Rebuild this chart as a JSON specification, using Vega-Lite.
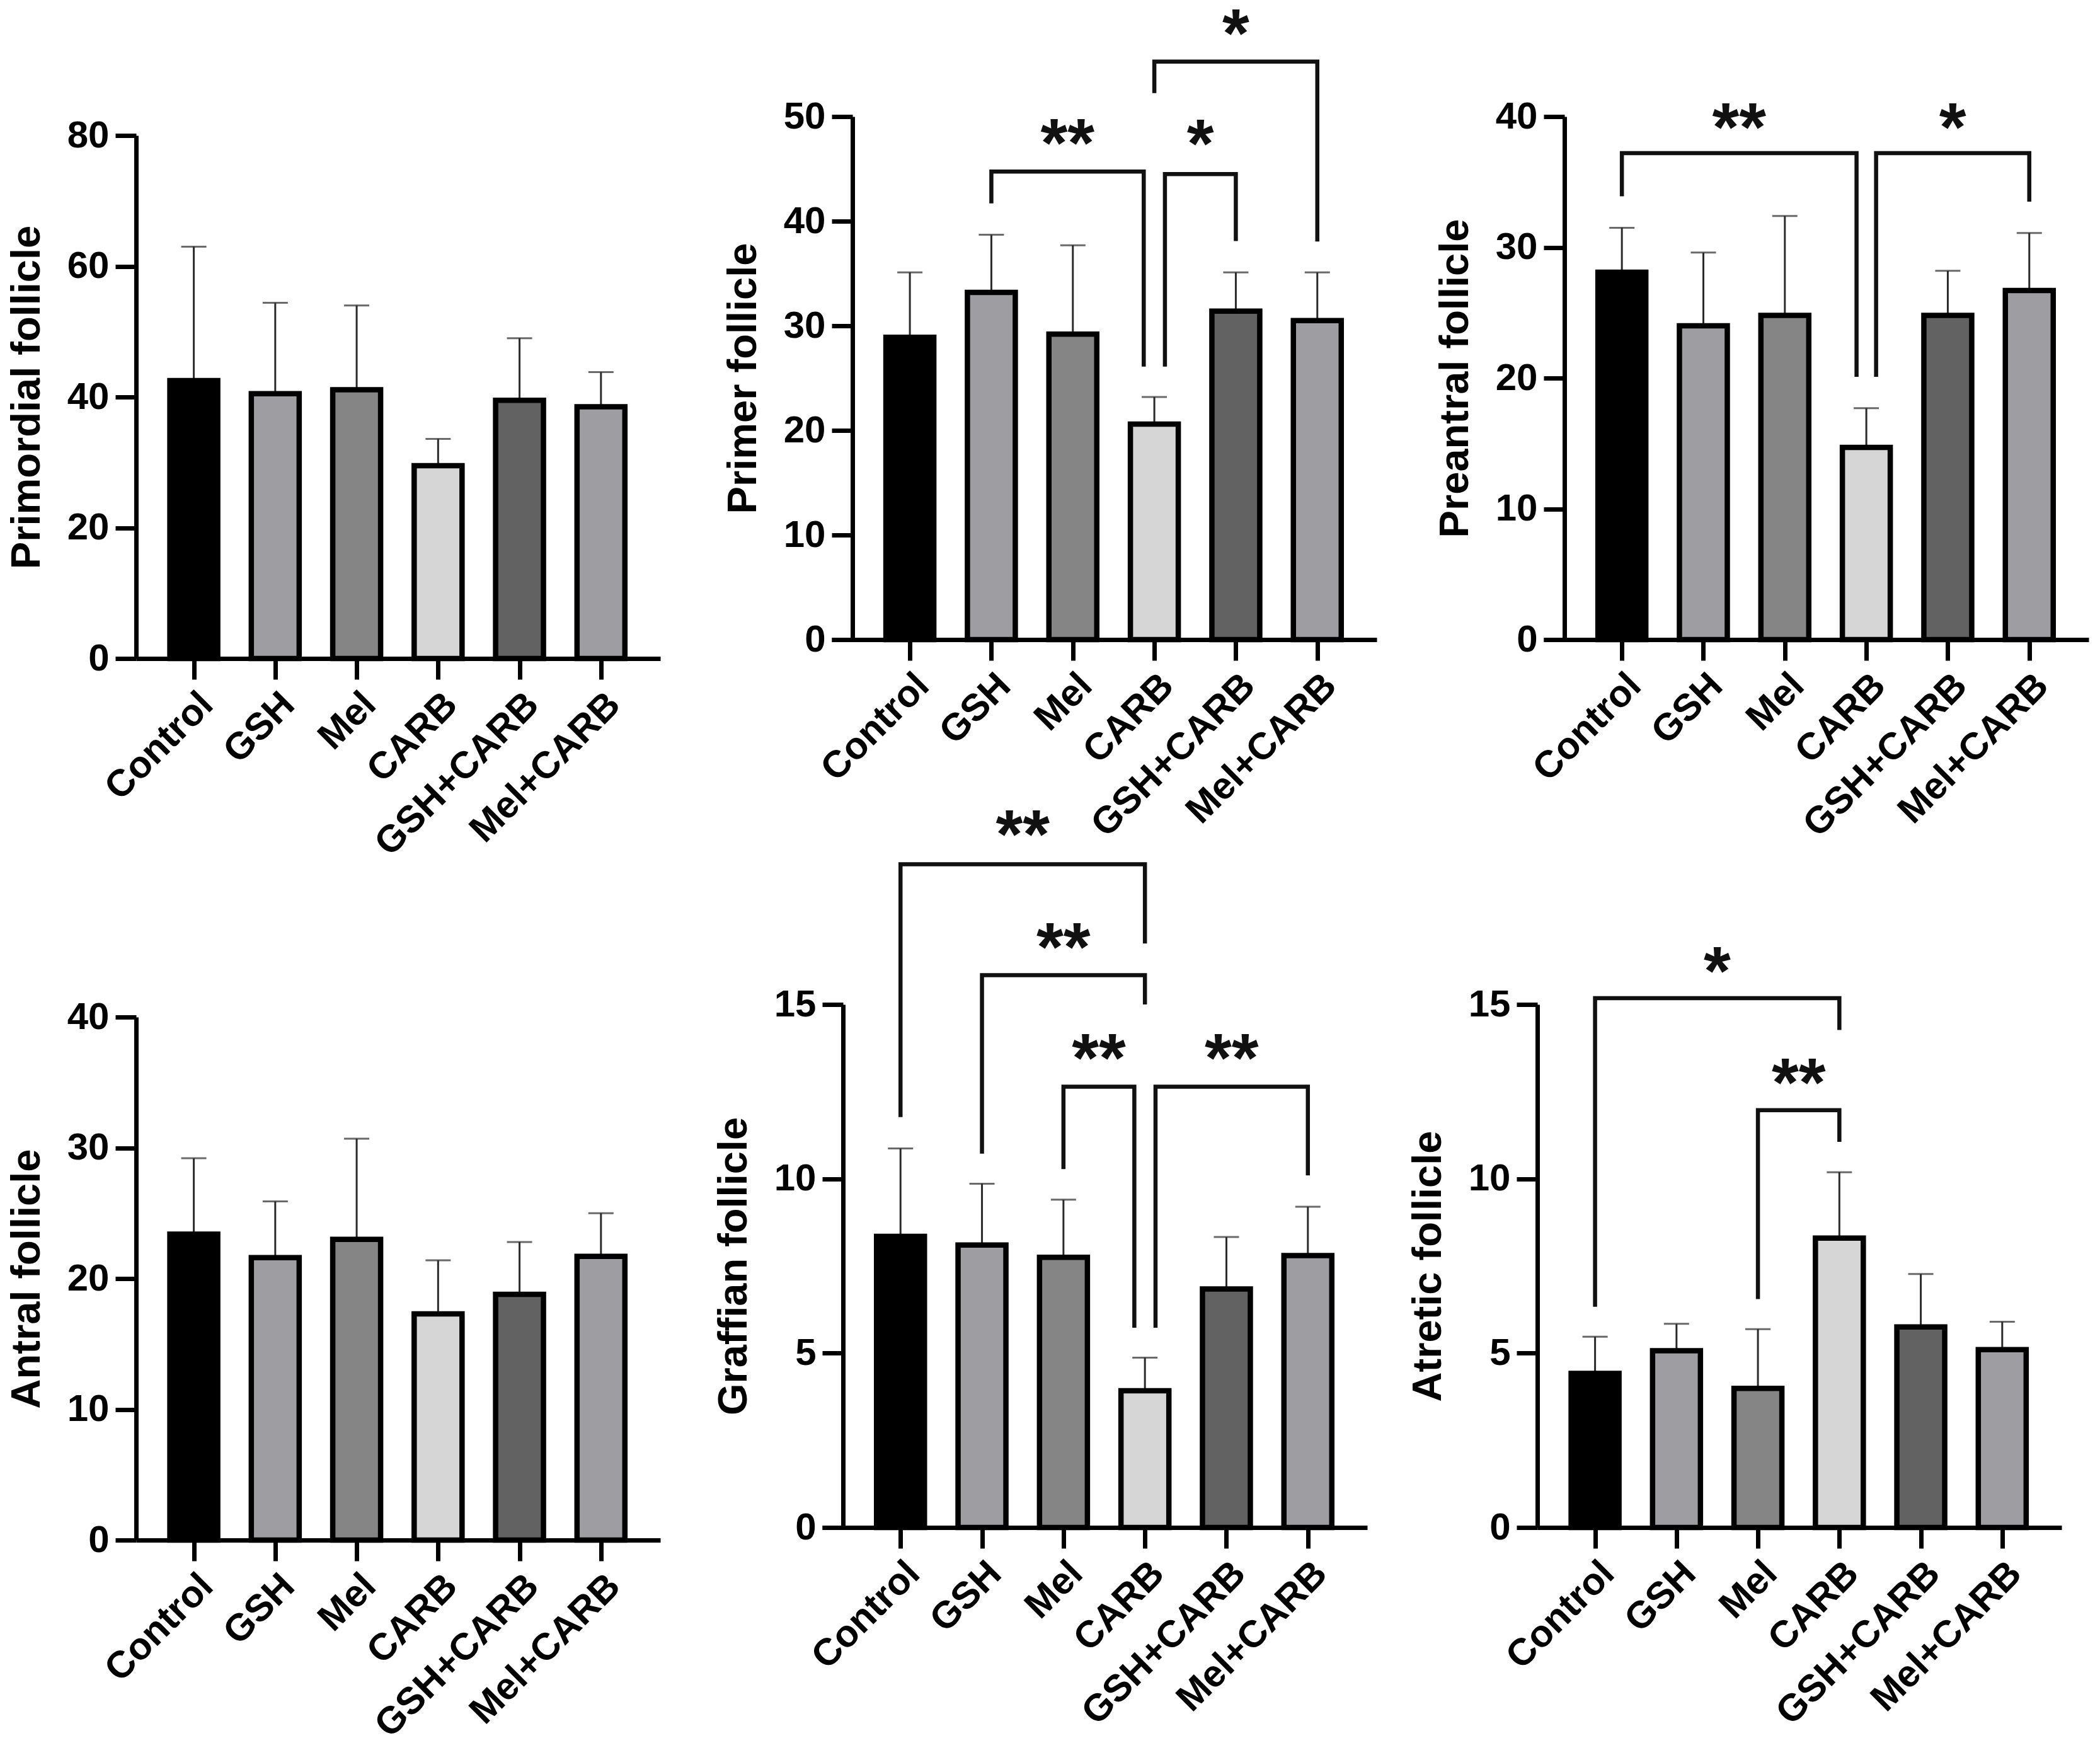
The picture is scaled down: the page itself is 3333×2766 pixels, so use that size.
{
  "$schema": "https://vega.github.io/schema/vega-lite/v6.json",
  "background": "white",
  "padding": {"left": 10, "top": 1, "right": 10, "bottom": 10},
  "columns": 3,
  "bounds": "flush",
  "align": "each",
  "spacing": {"row": 549, "column": 255},
  "config": {
    "view": {"stroke": null},
    "axis": {
      "grid": false,
      "domainColor": "#000000",
      "domainWidth": 7,
      "tickColor": "#000000",
      "tickWidth": 7,
      "tickSize": 33,
      "labelFont": "Liberation Sans",
      "labelFontWeight": "bold",
      "labelFontSize": 60,
      "labelColor": "#000000",
      "labelPadding": 10,
      "labelOverlap": false,
      "labelFlush": false,
      "labelBound": false,
      "labelLimit": 0,
      "titleFont": "Liberation Sans",
      "titleFontWeight": "bold",
      "titleFontSize": 65,
      "titleColor": "#000000",
      "titlePadding": 30
    },
    "axisX": {"labelAngle": -45, "labelAlign": "right", "labelBaseline": "top"}
  },
  "datasets": {
    "bars": [
      {"panel": "Primordial", "group": "Control", "pos": 0, "mean": 42.5, "upper": 63.0},
      {"panel": "Primordial", "group": "GSH", "pos": 1, "mean": 40.5, "upper": 54.4},
      {"panel": "Primordial", "group": "Mel", "pos": 2, "mean": 41.1, "upper": 54.0},
      {"panel": "Primordial", "group": "CARB", "pos": 3, "mean": 29.5, "upper": 33.6},
      {"panel": "Primordial", "group": "GSH+CARB", "pos": 4, "mean": 39.5, "upper": 49.0},
      {"panel": "Primordial", "group": "Mel+CARB", "pos": 5, "mean": 38.5, "upper": 43.8},
      {"panel": "Primer", "group": "Control", "pos": 0, "mean": 28.9, "upper": 35.1},
      {"panel": "Primer", "group": "GSH", "pos": 1, "mean": 33.2, "upper": 38.7},
      {"panel": "Primer", "group": "Mel", "pos": 2, "mean": 29.2, "upper": 37.7},
      {"panel": "Primer", "group": "CARB", "pos": 3, "mean": 20.6, "upper": 23.2},
      {"panel": "Primer", "group": "GSH+CARB", "pos": 4, "mean": 31.4, "upper": 35.1},
      {"panel": "Primer", "group": "Mel+CARB", "pos": 5, "mean": 30.5, "upper": 35.1},
      {"panel": "Preantral", "group": "Control", "pos": 0, "mean": 28.1, "upper": 31.5},
      {"panel": "Preantral", "group": "GSH", "pos": 1, "mean": 24.0, "upper": 29.6},
      {"panel": "Preantral", "group": "Mel", "pos": 2, "mean": 24.8, "upper": 32.4},
      {"panel": "Preantral", "group": "CARB", "pos": 3, "mean": 14.7, "upper": 17.7},
      {"panel": "Preantral", "group": "GSH+CARB", "pos": 4, "mean": 24.8, "upper": 28.2},
      {"panel": "Preantral", "group": "Mel+CARB", "pos": 5, "mean": 26.7, "upper": 31.1},
      {"panel": "Antral", "group": "Control", "pos": 0, "mean": 23.4, "upper": 29.2},
      {"panel": "Antral", "group": "GSH", "pos": 1, "mean": 21.6, "upper": 25.9},
      {"panel": "Antral", "group": "Mel", "pos": 2, "mean": 23.0, "upper": 30.7},
      {"panel": "Antral", "group": "CARB", "pos": 3, "mean": 17.3, "upper": 21.4},
      {"panel": "Antral", "group": "GSH+CARB", "pos": 4, "mean": 18.8, "upper": 22.8},
      {"panel": "Antral", "group": "Mel+CARB", "pos": 5, "mean": 21.7, "upper": 25.0},
      {"panel": "Graffian", "group": "Control", "pos": 0, "mean": 8.35, "upper": 10.87},
      {"panel": "Graffian", "group": "GSH", "pos": 1, "mean": 8.1, "upper": 9.86},
      {"panel": "Graffian", "group": "Mel", "pos": 2, "mean": 7.75, "upper": 9.4},
      {"panel": "Graffian", "group": "CARB", "pos": 3, "mean": 3.92, "upper": 4.87},
      {"panel": "Graffian", "group": "GSH+CARB", "pos": 4, "mean": 6.84, "upper": 8.33},
      {"panel": "Graffian", "group": "Mel+CARB", "pos": 5, "mean": 7.8, "upper": 9.2},
      {"panel": "Atretic", "group": "Control", "pos": 0, "mean": 4.42, "upper": 5.47},
      {"panel": "Atretic", "group": "GSH", "pos": 1, "mean": 5.07, "upper": 5.84},
      {"panel": "Atretic", "group": "Mel", "pos": 2, "mean": 3.99, "upper": 5.69},
      {"panel": "Atretic", "group": "CARB", "pos": 3, "mean": 8.3, "upper": 10.19},
      {"panel": "Atretic", "group": "GSH+CARB", "pos": 4, "mean": 5.75, "upper": 7.27},
      {"panel": "Atretic", "group": "Mel+CARB", "pos": 5, "mean": 5.1, "upper": 5.9}
    ],
    "brackets": [
      {"panel": "Primer", "b": "GSH-CARB", "k": 0, "pos": 1, "y": 41.7},
      {"panel": "Primer", "b": "GSH-CARB", "k": 1, "pos": 1, "y": 44.75},
      {"panel": "Primer", "b": "GSH-CARB", "k": 2, "pos": 2.87, "y": 44.75},
      {"panel": "Primer", "b": "GSH-CARB", "k": 3, "pos": 2.87, "y": 26.1},
      {"panel": "Primer", "b": "CARB-GSH+CARB", "k": 0, "pos": 3.13, "y": 26.1},
      {"panel": "Primer", "b": "CARB-GSH+CARB", "k": 1, "pos": 3.13, "y": 44.5},
      {"panel": "Primer", "b": "CARB-GSH+CARB", "k": 2, "pos": 4, "y": 44.5},
      {"panel": "Primer", "b": "CARB-GSH+CARB", "k": 3, "pos": 4, "y": 38.1},
      {"panel": "Primer", "b": "CARB-Mel+CARB", "k": 0, "pos": 3, "y": 52.25},
      {"panel": "Primer", "b": "CARB-Mel+CARB", "k": 1, "pos": 3, "y": 55.25},
      {"panel": "Primer", "b": "CARB-Mel+CARB", "k": 2, "pos": 5, "y": 55.25},
      {"panel": "Primer", "b": "CARB-Mel+CARB", "k": 3, "pos": 5, "y": 38.05},
      {"panel": "Preantral", "b": "Control-CARB", "k": 0, "pos": 0, "y": 33.9},
      {"panel": "Preantral", "b": "Control-CARB", "k": 1, "pos": 0, "y": 37.2},
      {"panel": "Preantral", "b": "Control-CARB", "k": 2, "pos": 2.88, "y": 37.2},
      {"panel": "Preantral", "b": "Control-CARB", "k": 3, "pos": 2.88, "y": 20.1},
      {"panel": "Preantral", "b": "CARB-Mel+CARB", "k": 0, "pos": 3.12, "y": 20.1},
      {"panel": "Preantral", "b": "CARB-Mel+CARB", "k": 1, "pos": 3.12, "y": 37.2},
      {"panel": "Preantral", "b": "CARB-Mel+CARB", "k": 2, "pos": 5, "y": 37.2},
      {"panel": "Preantral", "b": "CARB-Mel+CARB", "k": 3, "pos": 5, "y": 33.5},
      {"panel": "Graffian", "b": "Control-CARB", "k": 0, "pos": 0, "y": 11.77},
      {"panel": "Graffian", "b": "Control-CARB", "k": 1, "pos": 0, "y": 19.02},
      {"panel": "Graffian", "b": "Control-CARB", "k": 2, "pos": 3, "y": 19.02},
      {"panel": "Graffian", "b": "Control-CARB", "k": 3, "pos": 3, "y": 16.75},
      {"panel": "Graffian", "b": "GSH-CARB", "k": 0, "pos": 1, "y": 10.72},
      {"panel": "Graffian", "b": "GSH-CARB", "k": 1, "pos": 1, "y": 15.84},
      {"panel": "Graffian", "b": "GSH-CARB", "k": 2, "pos": 3, "y": 15.84},
      {"panel": "Graffian", "b": "GSH-CARB", "k": 3, "pos": 3, "y": 15.0},
      {"panel": "Graffian", "b": "Mel-CARB", "k": 0, "pos": 2, "y": 10.28},
      {"panel": "Graffian", "b": "Mel-CARB", "k": 1, "pos": 2, "y": 12.64},
      {"panel": "Graffian", "b": "Mel-CARB", "k": 2, "pos": 2.87, "y": 12.64},
      {"panel": "Graffian", "b": "Mel-CARB", "k": 3, "pos": 2.87, "y": 5.73},
      {"panel": "Graffian", "b": "CARB-Mel+CARB", "k": 0, "pos": 3.13, "y": 5.73},
      {"panel": "Graffian", "b": "CARB-Mel+CARB", "k": 1, "pos": 3.13, "y": 12.64},
      {"panel": "Graffian", "b": "CARB-Mel+CARB", "k": 2, "pos": 5, "y": 12.64},
      {"panel": "Graffian", "b": "CARB-Mel+CARB", "k": 3, "pos": 5, "y": 10.1},
      {"panel": "Atretic", "b": "Control-CARB", "k": 0, "pos": 0, "y": 6.33},
      {"panel": "Atretic", "b": "Control-CARB", "k": 1, "pos": 0, "y": 15.18},
      {"panel": "Atretic", "b": "Control-CARB", "k": 2, "pos": 3, "y": 15.18},
      {"panel": "Atretic", "b": "Control-CARB", "k": 3, "pos": 3, "y": 14.27},
      {"panel": "Atretic", "b": "Mel-CARB", "k": 0, "pos": 2, "y": 6.55},
      {"panel": "Atretic", "b": "Mel-CARB", "k": 1, "pos": 2, "y": 11.97},
      {"panel": "Atretic", "b": "Mel-CARB", "k": 2, "pos": 3, "y": 11.97},
      {"panel": "Atretic", "b": "Mel-CARB", "k": 3, "pos": 3, "y": 11.06}
    ],
    "stars": [
      {"panel": "Primer", "pos": 1.935, "y": 47.2, "label": "**"},
      {"panel": "Primer", "pos": 3.565, "y": 47.14, "label": "*"},
      {"panel": "Primer", "pos": 4.0, "y": 57.74, "label": "*"},
      {"panel": "Preantral", "pos": 1.44, "y": 39.0, "label": "**"},
      {"panel": "Preantral", "pos": 4.06, "y": 39.0, "label": "*"},
      {"panel": "Graffian", "pos": 1.5, "y": 19.8, "label": "**"},
      {"panel": "Graffian", "pos": 2.0, "y": 16.57, "label": "**"},
      {"panel": "Graffian", "pos": 2.435, "y": 13.39, "label": "**"},
      {"panel": "Graffian", "pos": 4.065, "y": 13.39, "label": "**"},
      {"panel": "Atretic", "pos": 1.5, "y": 15.88, "label": "*"},
      {"panel": "Atretic", "pos": 2.5, "y": 12.69, "label": "**"}
    ]
  },
  "concat": [
    {
      "width": 832, "height": 860,
      "encoding": {"x": {"field": "pos", "type": "quantitative", "scale": {"domain": [-0.67, 5.69], "nice": false, "zero": false}, "axis": {"values": [0, 1, 2, 3, 4, 5], "labelExpr": "['Control','GSH','Mel','CARB','GSH+CARB','Mel+CARB'][datum.value]", "title": null}}},
      "layer": [
        {"data": {"name": "bars"}, "transform": [{"filter": "datum.panel === 'Primordial'"}], "mark": {"type": "rule", "color": "#2b2b2b", "strokeWidth": 3}, "encoding": {"y": {"field": "mean", "type": "quantitative", "scale": {"domain": [0, 82.892], "nice": false}, "axis": {"values": [0, 20, 40, 60, 80], "title": "Primordial follicle", "domainDash": [830, 200], "titleY": 445}}, "y2": {"field": "upper"}}},
        {"data": {"name": "bars"}, "transform": [{"filter": "datum.panel === 'Primordial'"}], "mark": {"type": "tick", "orient": "horizontal", "size": 40, "thickness": 3, "color": "#2b2b2b"}, "encoding": {"y": {"field": "upper", "type": "quantitative", "scale": {"domain": [0, 82.892], "nice": false}, "axis": {"values": [0, 20, 40, 60, 80], "title": "Primordial follicle", "domainDash": [830, 200], "titleY": 445}}}},
        {"data": {"name": "bars"}, "transform": [{"filter": "datum.panel === 'Primordial'"}], "mark": {"type": "bar", "width": 76, "stroke": "#000000", "strokeWidth": 8.5}, "encoding": {"y": {"field": "mean", "type": "quantitative", "scale": {"domain": [0, 82.892], "nice": false}, "axis": {"values": [0, 20, 40, 60, 80], "title": "Primordial follicle", "domainDash": [830, 200], "titleY": 445}}, "color": {"field": "group", "type": "nominal", "scale": {"domain": ["Control", "GSH", "Mel", "CARB", "GSH+CARB", "Mel+CARB"], "range": ["#000000", "#9e9ea2", "#858585", "#d6d6d6", "#626262", "#9e9ea2"]}, "legend": null}}}
      ]
    },
    {
      "width": 882, "height": 830,
      "encoding": {"x": {"field": "pos", "type": "quantitative", "scale": {"domain": [-1.0523, 5.69], "nice": false, "zero": false}, "axis": {"values": [0, 1, 2, 3, 4, 5], "labelExpr": "['Control','GSH','Mel','CARB','GSH+CARB','Mel+CARB'][datum.value]", "title": null, "domainDash": [0, 17, 5000]}}},
      "layer": [
        {"data": {"name": "bars"}, "transform": [{"filter": "datum.panel === 'Primer'"}], "mark": {"type": "rule", "color": "#2b2b2b", "strokeWidth": 3}, "encoding": {"y": {"field": "mean", "type": "quantitative", "scale": {"domain": [0, 50], "nice": false}, "axis": {"values": [0, 10, 20, 30, 40, 50], "title": "Primer follicle", "offset": -50}}, "y2": {"field": "upper"}}},
        {"data": {"name": "bars"}, "transform": [{"filter": "datum.panel === 'Primer'"}], "mark": {"type": "tick", "orient": "horizontal", "size": 40, "thickness": 3, "color": "#2b2b2b"}, "encoding": {"y": {"field": "upper", "type": "quantitative", "scale": {"domain": [0, 50], "nice": false}, "axis": {"values": [0, 10, 20, 30, 40, 50], "title": "Primer follicle", "offset": -50}}}},
        {"data": {"name": "bars"}, "transform": [{"filter": "datum.panel === 'Primer'"}], "mark": {"type": "bar", "width": 76, "stroke": "#000000", "strokeWidth": 8.5}, "encoding": {"y": {"field": "mean", "type": "quantitative", "scale": {"domain": [0, 50], "nice": false}, "axis": {"values": [0, 10, 20, 30, 40, 50], "title": "Primer follicle", "offset": -50}}, "color": {"field": "group", "type": "nominal", "scale": {"domain": ["Control", "GSH", "Mel", "CARB", "GSH+CARB", "Mel+CARB"], "range": ["#000000", "#9e9ea2", "#858585", "#d6d6d6", "#626262", "#9e9ea2"]}, "legend": null}}},
        {"data": {"name": "brackets"}, "transform": [{"filter": "datum.panel === 'Primer'"}], "mark": {"type": "line", "color": "#111111", "strokeWidth": 6.5, "strokeJoin": "miter", "strokeCap": "butt"}, "encoding": {"y": {"field": "y", "type": "quantitative", "scale": {"domain": [0, 50], "nice": false}, "axis": {"values": [0, 10, 20, 30, 40, 50], "title": "Primer follicle", "offset": -50}}, "detail": {"field": "b"}, "order": {"field": "k", "type": "quantitative"}}},
        {"data": {"name": "stars"}, "transform": [{"filter": "datum.panel === 'Primer'"}], "mark": {"type": "text", "font": "Liberation Sans", "fontWeight": "bold", "fontSize": 110, "baseline": "middle", "align": "center", "color": "#111111"}, "encoding": {"y": {"field": "y", "type": "quantitative", "scale": {"domain": [0, 50], "nice": false}, "axis": {"values": [0, 10, 20, 30, 40, 50], "title": "Primer follicle", "offset": -50}}, "text": {"field": "label"}}}
      ]
    },
    {
      "width": 875, "height": 830,
      "encoding": {"x": {"field": "pos", "type": "quantitative", "scale": {"domain": [-0.9987, 5.69], "nice": false, "zero": false}, "axis": {"values": [0, 1, 2, 3, 4, 5], "labelExpr": "['Control','GSH','Mel','CARB','GSH+CARB','Mel+CARB'][datum.value]", "title": null, "domainDash": [0, 10, 5000]}}},
      "layer": [
        {"data": {"name": "bars"}, "transform": [{"filter": "datum.panel === 'Preantral'"}], "mark": {"type": "rule", "color": "#2b2b2b", "strokeWidth": 3}, "encoding": {"y": {"field": "mean", "type": "quantitative", "scale": {"domain": [0, 40], "nice": false}, "axis": {"values": [0, 10, 20, 30, 40], "title": "Preantral follicle", "offset": -43}}, "y2": {"field": "upper"}}},
        {"data": {"name": "bars"}, "transform": [{"filter": "datum.panel === 'Preantral'"}], "mark": {"type": "tick", "orient": "horizontal", "size": 40, "thickness": 3, "color": "#2b2b2b"}, "encoding": {"y": {"field": "upper", "type": "quantitative", "scale": {"domain": [0, 40], "nice": false}, "axis": {"values": [0, 10, 20, 30, 40], "title": "Preantral follicle", "offset": -43}}}},
        {"data": {"name": "bars"}, "transform": [{"filter": "datum.panel === 'Preantral'"}], "mark": {"type": "bar", "width": 76, "stroke": "#000000", "strokeWidth": 8.5}, "encoding": {"y": {"field": "mean", "type": "quantitative", "scale": {"domain": [0, 40], "nice": false}, "axis": {"values": [0, 10, 20, 30, 40], "title": "Preantral follicle", "offset": -43}}, "color": {"field": "group", "type": "nominal", "scale": {"domain": ["Control", "GSH", "Mel", "CARB", "GSH+CARB", "Mel+CARB"], "range": ["#000000", "#9e9ea2", "#858585", "#d6d6d6", "#626262", "#9e9ea2"]}, "legend": null}}},
        {"data": {"name": "brackets"}, "transform": [{"filter": "datum.panel === 'Preantral'"}], "mark": {"type": "line", "color": "#111111", "strokeWidth": 6.5, "strokeJoin": "miter", "strokeCap": "butt"}, "encoding": {"y": {"field": "y", "type": "quantitative", "scale": {"domain": [0, 40], "nice": false}, "axis": {"values": [0, 10, 20, 30, 40], "title": "Preantral follicle", "offset": -43}}, "detail": {"field": "b"}, "order": {"field": "k", "type": "quantitative"}}},
        {"data": {"name": "stars"}, "transform": [{"filter": "datum.panel === 'Preantral'"}], "mark": {"type": "text", "font": "Liberation Sans", "fontWeight": "bold", "fontSize": 110, "baseline": "middle", "align": "center", "color": "#111111"}, "encoding": {"y": {"field": "y", "type": "quantitative", "scale": {"domain": [0, 40], "nice": false}, "axis": {"values": [0, 10, 20, 30, 40], "title": "Preantral follicle", "offset": -43}}, "text": {"field": "label"}}}
      ]
    },
    {
      "width": 832, "height": 850,
      "encoding": {"x": {"field": "pos", "type": "quantitative", "scale": {"domain": [-0.67, 5.69], "nice": false, "zero": false}, "axis": {"values": [0, 1, 2, 3, 4, 5], "labelExpr": "['Control','GSH','Mel','CARB','GSH+CARB','Mel+CARB'][datum.value]", "title": null}}},
      "layer": [
        {"data": {"name": "bars"}, "transform": [{"filter": "datum.panel === 'Antral'"}], "mark": {"type": "rule", "color": "#2b2b2b", "strokeWidth": 3}, "encoding": {"y": {"field": "mean", "type": "quantitative", "scale": {"domain": [0, 40.964], "nice": false}, "axis": {"values": [0, 10, 20, 30, 40], "title": "Antral follicle", "domainDash": [830, 200], "titleY": 435}}, "y2": {"field": "upper"}}},
        {"data": {"name": "bars"}, "transform": [{"filter": "datum.panel === 'Antral'"}], "mark": {"type": "tick", "orient": "horizontal", "size": 40, "thickness": 3, "color": "#2b2b2b"}, "encoding": {"y": {"field": "upper", "type": "quantitative", "scale": {"domain": [0, 40.964], "nice": false}, "axis": {"values": [0, 10, 20, 30, 40], "title": "Antral follicle", "domainDash": [830, 200], "titleY": 435}}}},
        {"data": {"name": "bars"}, "transform": [{"filter": "datum.panel === 'Antral'"}], "mark": {"type": "bar", "width": 76, "stroke": "#000000", "strokeWidth": 8.5}, "encoding": {"y": {"field": "mean", "type": "quantitative", "scale": {"domain": [0, 40.964], "nice": false}, "axis": {"values": [0, 10, 20, 30, 40], "title": "Antral follicle", "domainDash": [830, 200], "titleY": 435}}, "color": {"field": "group", "type": "nominal", "scale": {"domain": ["Control", "GSH", "Mel", "CARB", "GSH+CARB", "Mel+CARB"], "range": ["#000000", "#9e9ea2", "#858585", "#d6d6d6", "#626262", "#9e9ea2"]}, "legend": null}}}
      ]
    },
    {
      "width": 867, "height": 830,
      "encoding": {"x": {"field": "pos", "type": "quantitative", "scale": {"domain": [-0.9376, 5.69], "nice": false, "zero": false}, "axis": {"values": [0, 1, 2, 3, 4, 5], "labelExpr": "['Control','GSH','Mel','CARB','GSH+CARB','Mel+CARB'][datum.value]", "title": null, "domainDash": [0, 2, 5000]}}},
      "layer": [
        {"data": {"name": "bars"}, "transform": [{"filter": "datum.panel === 'Graffian'"}], "mark": {"type": "rule", "color": "#2b2b2b", "strokeWidth": 3}, "encoding": {"y": {"field": "mean", "type": "quantitative", "scale": {"domain": [0, 15], "nice": false}, "axis": {"values": [0, 5, 10, 15], "title": "Graffian follicle", "offset": -35}}, "y2": {"field": "upper"}}},
        {"data": {"name": "bars"}, "transform": [{"filter": "datum.panel === 'Graffian'"}], "mark": {"type": "tick", "orient": "horizontal", "size": 40, "thickness": 3, "color": "#2b2b2b"}, "encoding": {"y": {"field": "upper", "type": "quantitative", "scale": {"domain": [0, 15], "nice": false}, "axis": {"values": [0, 5, 10, 15], "title": "Graffian follicle", "offset": -35}}}},
        {"data": {"name": "bars"}, "transform": [{"filter": "datum.panel === 'Graffian'"}], "mark": {"type": "bar", "width": 76, "stroke": "#000000", "strokeWidth": 8.5}, "encoding": {"y": {"field": "mean", "type": "quantitative", "scale": {"domain": [0, 15], "nice": false}, "axis": {"values": [0, 5, 10, 15], "title": "Graffian follicle", "offset": -35}}, "color": {"field": "group", "type": "nominal", "scale": {"domain": ["Control", "GSH", "Mel", "CARB", "GSH+CARB", "Mel+CARB"], "range": ["#000000", "#9e9ea2", "#858585", "#d6d6d6", "#626262", "#9e9ea2"]}, "legend": null}}},
        {"data": {"name": "brackets"}, "transform": [{"filter": "datum.panel === 'Graffian'"}], "mark": {"type": "line", "color": "#111111", "strokeWidth": 6.5, "strokeJoin": "miter", "strokeCap": "butt"}, "encoding": {"y": {"field": "y", "type": "quantitative", "scale": {"domain": [0, 15], "nice": false}, "axis": {"values": [0, 5, 10, 15], "title": "Graffian follicle", "offset": -35}}, "detail": {"field": "b"}, "order": {"field": "k", "type": "quantitative"}}},
        {"data": {"name": "stars"}, "transform": [{"filter": "datum.panel === 'Graffian'"}], "mark": {"type": "text", "font": "Liberation Sans", "fontWeight": "bold", "fontSize": 110, "baseline": "middle", "align": "center", "color": "#111111"}, "encoding": {"y": {"field": "y", "type": "quantitative", "scale": {"domain": [0, 15], "nice": false}, "axis": {"values": [0, 5, 10, 15], "title": "Graffian follicle", "offset": -35}}, "text": {"field": "label"}}}
      ]
    },
    {
      "width": 832, "height": 830,
      "encoding": {"x": {"field": "pos", "type": "quantitative", "scale": {"domain": [-0.67, 5.69], "nice": false, "zero": false}, "axis": {"values": [0, 1, 2, 3, 4, 5], "labelExpr": "['Control','GSH','Mel','CARB','GSH+CARB','Mel+CARB'][datum.value]", "title": null}}},
      "layer": [
        {"data": {"name": "bars"}, "transform": [{"filter": "datum.panel === 'Atretic'"}], "mark": {"type": "rule", "color": "#2b2b2b", "strokeWidth": 3}, "encoding": {"y": {"field": "mean", "type": "quantitative", "scale": {"domain": [0, 15], "nice": false}, "axis": {"values": [0, 5, 10, 15], "title": "Atretic follicle"}}, "y2": {"field": "upper"}}},
        {"data": {"name": "bars"}, "transform": [{"filter": "datum.panel === 'Atretic'"}], "mark": {"type": "tick", "orient": "horizontal", "size": 40, "thickness": 3, "color": "#2b2b2b"}, "encoding": {"y": {"field": "upper", "type": "quantitative", "scale": {"domain": [0, 15], "nice": false}, "axis": {"values": [0, 5, 10, 15], "title": "Atretic follicle"}}}},
        {"data": {"name": "bars"}, "transform": [{"filter": "datum.panel === 'Atretic'"}], "mark": {"type": "bar", "width": 76, "stroke": "#000000", "strokeWidth": 8.5}, "encoding": {"y": {"field": "mean", "type": "quantitative", "scale": {"domain": [0, 15], "nice": false}, "axis": {"values": [0, 5, 10, 15], "title": "Atretic follicle"}}, "color": {"field": "group", "type": "nominal", "scale": {"domain": ["Control", "GSH", "Mel", "CARB", "GSH+CARB", "Mel+CARB"], "range": ["#000000", "#9e9ea2", "#858585", "#d6d6d6", "#626262", "#9e9ea2"]}, "legend": null}}},
        {"data": {"name": "brackets"}, "transform": [{"filter": "datum.panel === 'Atretic'"}], "mark": {"type": "line", "color": "#111111", "strokeWidth": 6.5, "strokeJoin": "miter", "strokeCap": "butt"}, "encoding": {"y": {"field": "y", "type": "quantitative", "scale": {"domain": [0, 15], "nice": false}, "axis": {"values": [0, 5, 10, 15], "title": "Atretic follicle"}}, "detail": {"field": "b"}, "order": {"field": "k", "type": "quantitative"}}},
        {"data": {"name": "stars"}, "transform": [{"filter": "datum.panel === 'Atretic'"}], "mark": {"type": "text", "font": "Liberation Sans", "fontWeight": "bold", "fontSize": 110, "baseline": "middle", "align": "center", "color": "#111111"}, "encoding": {"y": {"field": "y", "type": "quantitative", "scale": {"domain": [0, 15], "nice": false}, "axis": {"values": [0, 5, 10, 15], "title": "Atretic follicle"}}, "text": {"field": "label"}}}
      ]
    }
  ]
}
